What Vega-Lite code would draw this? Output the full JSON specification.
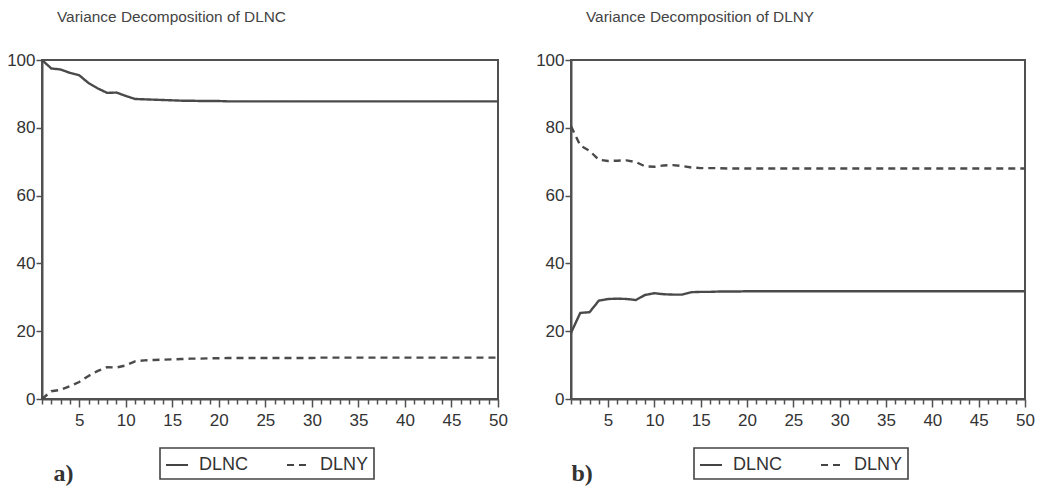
{
"$schema": "https://vega.github.io/schema/vega-lite/v6.json",
"background": "white",
"padding": {"left": 5, "top": 8, "right": 0, "bottom": 0},
"datasets": {
"a": [
{"period":1,"series":"DLNC","value":100},{"period":2,"series":"DLNC","value":97.5},{"period":3,"series":"DLNC","value":97.2},{"period":4,"series":"DLNC","value":96.2},{"period":5,"series":"DLNC","value":95.5},{"period":6,"series":"DLNC","value":93.2},{"period":7,"series":"DLNC","value":91.6},{"period":8,"series":"DLNC","value":90.3},{"period":9,"series":"DLNC","value":90.4},{"period":10,"series":"DLNC","value":89.4},
{"period":11,"series":"DLNC","value":88.5},{"period":12,"series":"DLNC","value":88.4},{"period":13,"series":"DLNC","value":88.3},{"period":14,"series":"DLNC","value":88.2},{"period":15,"series":"DLNC","value":88.1},{"period":16,"series":"DLNC","value":88.0},{"period":17,"series":"DLNC","value":88.0},{"period":18,"series":"DLNC","value":87.9},{"period":19,"series":"DLNC","value":87.9},{"period":20,"series":"DLNC","value":87.9},
{"period":21,"series":"DLNC","value":87.8},{"period":22,"series":"DLNC","value":87.8},{"period":23,"series":"DLNC","value":87.8},{"period":24,"series":"DLNC","value":87.8},{"period":25,"series":"DLNC","value":87.8},{"period":26,"series":"DLNC","value":87.8},{"period":27,"series":"DLNC","value":87.8},{"period":28,"series":"DLNC","value":87.8},{"period":29,"series":"DLNC","value":87.8},{"period":30,"series":"DLNC","value":87.8},
{"period":31,"series":"DLNC","value":87.8},{"period":32,"series":"DLNC","value":87.8},{"period":33,"series":"DLNC","value":87.8},{"period":34,"series":"DLNC","value":87.8},{"period":35,"series":"DLNC","value":87.8},{"period":36,"series":"DLNC","value":87.8},{"period":37,"series":"DLNC","value":87.8},{"period":38,"series":"DLNC","value":87.8},{"period":39,"series":"DLNC","value":87.8},{"period":40,"series":"DLNC","value":87.8},
{"period":41,"series":"DLNC","value":87.8},{"period":42,"series":"DLNC","value":87.8},{"period":43,"series":"DLNC","value":87.8},{"period":44,"series":"DLNC","value":87.8},{"period":45,"series":"DLNC","value":87.8},{"period":46,"series":"DLNC","value":87.8},{"period":47,"series":"DLNC","value":87.8},{"period":48,"series":"DLNC","value":87.8},{"period":49,"series":"DLNC","value":87.8},{"period":50,"series":"DLNC","value":87.8},
{"period":1,"series":"DLNY","value":0},{"period":2,"series":"DLNY","value":2.3},{"period":3,"series":"DLNY","value":2.7},{"period":4,"series":"DLNY","value":3.8},{"period":5,"series":"DLNY","value":5.0},{"period":6,"series":"DLNY","value":6.8},{"period":7,"series":"DLNY","value":8.3},{"period":8,"series":"DLNY","value":9.4},{"period":9,"series":"DLNY","value":9.3},{"period":10,"series":"DLNY","value":9.9},
{"period":11,"series":"DLNY","value":11.1},{"period":12,"series":"DLNY","value":11.4},{"period":13,"series":"DLNY","value":11.5},{"period":14,"series":"DLNY","value":11.6},{"period":15,"series":"DLNY","value":11.7},{"period":16,"series":"DLNY","value":11.8},{"period":17,"series":"DLNY","value":11.9},{"period":18,"series":"DLNY","value":11.9},{"period":19,"series":"DLNY","value":12.0},{"period":20,"series":"DLNY","value":12.0},
{"period":21,"series":"DLNY","value":12.1},{"period":22,"series":"DLNY","value":12.1},{"period":23,"series":"DLNY","value":12.1},{"period":24,"series":"DLNY","value":12.1},{"period":25,"series":"DLNY","value":12.1},{"period":26,"series":"DLNY","value":12.1},{"period":27,"series":"DLNY","value":12.1},{"period":28,"series":"DLNY","value":12.1},{"period":29,"series":"DLNY","value":12.1},{"period":30,"series":"DLNY","value":12.1},
{"period":31,"series":"DLNY","value":12.2},{"period":32,"series":"DLNY","value":12.2},{"period":33,"series":"DLNY","value":12.2},{"period":34,"series":"DLNY","value":12.2},{"period":35,"series":"DLNY","value":12.2},{"period":36,"series":"DLNY","value":12.2},{"period":37,"series":"DLNY","value":12.2},{"period":38,"series":"DLNY","value":12.2},{"period":39,"series":"DLNY","value":12.2},{"period":40,"series":"DLNY","value":12.2},
{"period":41,"series":"DLNY","value":12.2},{"period":42,"series":"DLNY","value":12.2},{"period":43,"series":"DLNY","value":12.2},{"period":44,"series":"DLNY","value":12.2},{"period":45,"series":"DLNY","value":12.2},{"period":46,"series":"DLNY","value":12.2},{"period":47,"series":"DLNY","value":12.2},{"period":48,"series":"DLNY","value":12.2},{"period":49,"series":"DLNY","value":12.2},{"period":50,"series":"DLNY","value":12.2}
],
"b": [
{"period":1,"series":"DLNC","value":19.5},{"period":2,"series":"DLNC","value":25.4},{"period":3,"series":"DLNC","value":25.6},{"period":4,"series":"DLNC","value":29.0},{"period":5,"series":"DLNC","value":29.5},{"period":6,"series":"DLNC","value":29.6},{"period":7,"series":"DLNC","value":29.5},{"period":8,"series":"DLNC","value":29.2},{"period":9,"series":"DLNC","value":30.7},{"period":10,"series":"DLNC","value":31.2},
{"period":11,"series":"DLNC","value":30.9},{"period":12,"series":"DLNC","value":30.8},{"period":13,"series":"DLNC","value":30.8},{"period":14,"series":"DLNC","value":31.5},{"period":15,"series":"DLNC","value":31.6},{"period":16,"series":"DLNC","value":31.6},{"period":17,"series":"DLNC","value":31.7},{"period":18,"series":"DLNC","value":31.7},{"period":19,"series":"DLNC","value":31.7},{"period":20,"series":"DLNC","value":31.8},
{"period":21,"series":"DLNC","value":31.8},{"period":22,"series":"DLNC","value":31.8},{"period":23,"series":"DLNC","value":31.8},{"period":24,"series":"DLNC","value":31.8},{"period":25,"series":"DLNC","value":31.8},{"period":26,"series":"DLNC","value":31.8},{"period":27,"series":"DLNC","value":31.8},{"period":28,"series":"DLNC","value":31.8},{"period":29,"series":"DLNC","value":31.8},{"period":30,"series":"DLNC","value":31.8},
{"period":31,"series":"DLNC","value":31.8},{"period":32,"series":"DLNC","value":31.8},{"period":33,"series":"DLNC","value":31.8},{"period":34,"series":"DLNC","value":31.8},{"period":35,"series":"DLNC","value":31.8},{"period":36,"series":"DLNC","value":31.8},{"period":37,"series":"DLNC","value":31.8},{"period":38,"series":"DLNC","value":31.8},{"period":39,"series":"DLNC","value":31.8},{"period":40,"series":"DLNC","value":31.8},
{"period":41,"series":"DLNC","value":31.8},{"period":42,"series":"DLNC","value":31.8},{"period":43,"series":"DLNC","value":31.8},{"period":44,"series":"DLNC","value":31.8},{"period":45,"series":"DLNC","value":31.8},{"period":46,"series":"DLNC","value":31.8},{"period":47,"series":"DLNC","value":31.8},{"period":48,"series":"DLNC","value":31.8},{"period":49,"series":"DLNC","value":31.8},{"period":50,"series":"DLNC","value":31.8},
{"period":1,"series":"DLNY","value":80.5},{"period":2,"series":"DLNY","value":74.8},{"period":3,"series":"DLNY","value":73.2},{"period":4,"series":"DLNY","value":70.6},{"period":5,"series":"DLNY","value":70.2},{"period":6,"series":"DLNY","value":70.3},{"period":7,"series":"DLNY","value":70.4},{"period":8,"series":"DLNY","value":69.9},{"period":9,"series":"DLNY","value":68.6},{"period":10,"series":"DLNY","value":68.5},
{"period":11,"series":"DLNY","value":68.9},{"period":12,"series":"DLNY","value":69.0},{"period":13,"series":"DLNY","value":68.7},{"period":14,"series":"DLNY","value":68.3},{"period":15,"series":"DLNY","value":68.1},{"period":16,"series":"DLNY","value":68.1},{"period":17,"series":"DLNY","value":68.1},{"period":18,"series":"DLNY","value":68.0},{"period":19,"series":"DLNY","value":68.0},{"period":20,"series":"DLNY","value":68.0},
{"period":21,"series":"DLNY","value":68.0},{"period":22,"series":"DLNY","value":68.0},{"period":23,"series":"DLNY","value":68.0},{"period":24,"series":"DLNY","value":68.0},{"period":25,"series":"DLNY","value":68.0},{"period":26,"series":"DLNY","value":68.0},{"period":27,"series":"DLNY","value":68.0},{"period":28,"series":"DLNY","value":68.0},{"period":29,"series":"DLNY","value":68.0},{"period":30,"series":"DLNY","value":68.0},
{"period":31,"series":"DLNY","value":68.0},{"period":32,"series":"DLNY","value":68.0},{"period":33,"series":"DLNY","value":68.0},{"period":34,"series":"DLNY","value":68.0},{"period":35,"series":"DLNY","value":68.0},{"period":36,"series":"DLNY","value":68.0},{"period":37,"series":"DLNY","value":68.0},{"period":38,"series":"DLNY","value":68.0},{"period":39,"series":"DLNY","value":68.0},{"period":40,"series":"DLNY","value":68.0},
{"period":41,"series":"DLNY","value":68.0},{"period":42,"series":"DLNY","value":68.0},{"period":43,"series":"DLNY","value":68.0},{"period":44,"series":"DLNY","value":68.0},{"period":45,"series":"DLNY","value":68.0},{"period":46,"series":"DLNY","value":68.0},{"period":47,"series":"DLNY","value":68.0},{"period":48,"series":"DLNY","value":68.0},{"period":49,"series":"DLNY","value":68.0},{"period":50,"series":"DLNY","value":68.0}
]
},
"config": {
  "font": "Liberation Sans",
  "view": {"stroke": "#505050", "strokeWidth": 2},
  "axis": {"domainColor": "#505050", "domainWidth": 2, "tickColor": "#505050", "tickWidth": 1.5, "labelColor": "#333333", "labelFontSize": 17, "labelFont": "Liberation Sans", "grid": false},
  "concat": {"spacing": 25}
},
"resolve": {"scale": {"strokeDash": "independent", "x": "independent", "y": "independent"}, "legend": {"strokeDash": "independent"}},
"hconcat": [
{
  "width": 456, "height": 339,
  "title": {"text": "Variance Decomposition of DLNC", "anchor": "start", "frame": "group", "dx": 15, "fontSize": 15.4, "fontWeight": "normal", "color": "#444444", "font": "Liberation Sans", "offset": 26},
  "data": {"name": "a"},
  "mark": {"type": "line", "color": "#4a4a4a", "strokeWidth": 2.4},
  "encoding": {
    "x": {"field": "period", "type": "quantitative", "scale": {"domain": [1, 50], "nice": false, "zero": false},
      "axis": {"values": [1,2,3,4,5,6,7,8,9,10,11,12,13,14,15,16,17,18,19,20,21,22,23,24,25,26,27,28,29,30,31,32,33,34,35,36,37,38,39,40,41,42,43,44,45,46,47,48,49,50],
        "labelExpr": "datum.value % 5 === 0 ? datum.label : ''",
        "tickSize": {"condition": {"test": "datum.value % 5 === 0", "value": 8}, "value": 5},
        "labelPadding": 5, "labelFlush": false,
        "title": "a)", "titleFont": "Liberation Serif", "titleFontSize": 24, "titleFontWeight": "bold", "titleColor": "#333333",
        "titleAnchor": "start", "titleAlign": "left", "titleX": 11, "titleY": 81, "titleBaseline": "alphabetic"}},
    "y": {"field": "value", "type": "quantitative", "scale": {"domain": [0, 100], "nice": false},
      "axis": {"values": [0, 20, 40, 60, 80, 100], "tickSize": 6, "labelPadding": 1, "title": null}},
    "strokeDash": {"field": "series", "type": "nominal", "scale": {"domain": ["DLNC", "DLNY"], "range": [[1, 0], [7, 5]]},
      "legend": {"title": null, "orient": "none", "legendX": 118, "legendY": 388, "direction": "horizontal", "strokeColor": "#444444", "padding": 5, "labelFontSize": 18, "labelColor": "#333333", "labelFont": "Liberation Sans", "symbolType": "stroke", "symbolStrokeColor": "#444444", "symbolStrokeWidth": 2, "symbolSize": 484, "columnPadding": 34, "labelOffset": 10,
        "encode": {"legend": {"update": {"strokeWidth": {"value": 1.6}}}}}}
  }
},
{
  "width": 454, "height": 339,
  "title": {"text": "Variance Decomposition of DLNY", "anchor": "start", "frame": "group", "dx": 15, "fontSize": 15.4, "fontWeight": "normal", "color": "#444444", "font": "Liberation Sans", "offset": 26},
  "data": {"name": "b"},
  "mark": {"type": "line", "color": "#4a4a4a", "strokeWidth": 2.4},
  "encoding": {
    "x": {"field": "period", "type": "quantitative", "scale": {"domain": [1, 50], "nice": false, "zero": false},
      "axis": {"values": [1,2,3,4,5,6,7,8,9,10,11,12,13,14,15,16,17,18,19,20,21,22,23,24,25,26,27,28,29,30,31,32,33,34,35,36,37,38,39,40,41,42,43,44,45,46,47,48,49,50],
        "labelExpr": "datum.value % 5 === 0 ? datum.label : ''",
        "tickSize": {"condition": {"test": "datum.value % 5 === 0", "value": 8}, "value": 5},
        "labelPadding": 5, "labelFlush": false,
        "title": "b)", "titleFont": "Liberation Serif", "titleFontSize": 24, "titleFontWeight": "bold", "titleColor": "#333333",
        "titleAnchor": "start", "titleAlign": "left", "titleX": 0, "titleY": 81, "titleBaseline": "alphabetic"}},
    "y": {"field": "value", "type": "quantitative", "scale": {"domain": [0, 100], "nice": false},
      "axis": {"values": [0, 20, 40, 60, 80, 100], "tickSize": 6, "labelPadding": 1, "title": null}},
    "strokeDash": {"field": "series", "type": "nominal", "scale": {"domain": ["DLNC", "DLNY"], "range": [[1, 0], [7, 5]]},
      "legend": {"title": null, "orient": "none", "legendX": 123, "legendY": 388, "direction": "horizontal", "strokeColor": "#444444", "padding": 5, "labelFontSize": 18, "labelColor": "#333333", "labelFont": "Liberation Sans", "symbolType": "stroke", "symbolStrokeColor": "#444444", "symbolStrokeWidth": 2, "symbolSize": 484, "columnPadding": 34, "labelOffset": 10,
        "encode": {"legend": {"update": {"strokeWidth": {"value": 1.6}}}}}}
  }
}
]
}
